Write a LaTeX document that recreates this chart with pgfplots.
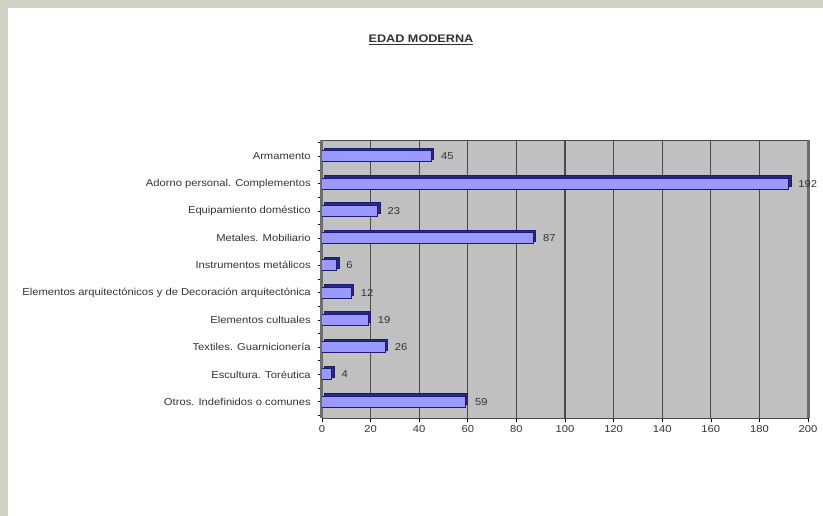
\documentclass[border=0pt]{standalone}
\usepackage{pgfplots}
\pgfplotsset{compat=1.18}
\usepackage{fontspec}
\setmainfont{Liberation Sans}
\definecolor{framec}{HTML}{CFD3C4}
\definecolor{wallc}{HTML}{C0C0C0}
\definecolor{barc}{HTML}{9999FF}
\definecolor{baredge}{HTML}{1C1C6E}
\definecolor{bardark}{HTML}{2A2A80}
\definecolor{gridc}{HTML}{4A4A4A}
\definecolor{txtc}{HTML}{333333}
\begin{document}
\begin{tikzpicture}[x=1pt,y=1pt]
\useasboundingbox (0,0) rectangle (823,516);
\fill[white] (0,0) rectangle (823,516);
\fill[framec] (0,508) rectangle (823,516);
\fill[framec] (0,0) rectangle (8,516);
\node[font=\fontsize{11}{12}\selectfont\bfseries, text=txtc, xscale=1.15] at (421,476) {\underline{EDAD MODERNA}};
\begin{axis}[
  at={(322pt,98pt)}, anchor=south west,
  scale only axis, width=486pt, height=278pt,
  xbar, bar width=11pt, bar shift=0pt,
  xmin=0, xmax=200, ymin=-0.6, ymax=9.6,
  xtick={0,20,...,200},
  ytick={0,...,9},
  yticklabels={Otros. Indefinidos o comunes, Escultura. Toréutica, Textiles. Guarnicionería, Elementos cultuales, Elementos arquitectónicos y de Decoración arquitectónica, Instrumentos metálicos, Metales. Mobiliario, Equipamiento doméstico, Adorno personal. Complementos, Armamento},
  minor ytick={-0.5,0.5,...,9.5},
  tick style={black, line width=0.6pt},
  major tick length=4pt, minor tick length=4pt,
  tick align=outside, xtick pos=bottom, ytick pos=left,
  xmajorgrids, major x grid style={gridc, line width=1.2pt},
  axis background/.style={fill=wallc},
  axis line style={gridc, line width=0.8pt},
  separate axis lines,
  y axis line style={gridc!80, line width=3pt},
  ticklabel style={font=\fontsize{10}{11}\selectfont, text=txtc, xscale=1.12},
  yticklabel style={xshift=-3pt},
  /pgf/number format/assume math mode=true,
]
\addplot[fill=bardark, draw=baredge, line width=1pt, xshift=2.5pt, yshift=2.5pt] coordinates {
(59,0) (4,1) (26,2) (19,3) (12,4) (6,5) (87,6) (23,7) (192,8) (45,9)
};
\addplot[fill=barc, draw=baredge, line width=1pt,
  nodes near coords,
  every node near coord/.append style={font=\fontsize{10}{11}\selectfont, text=txtc, anchor=west, xshift=5.5pt, xscale=1.12}] coordinates {
(59,0) (4,1) (26,2) (19,3) (12,4) (6,5) (87,6) (23,7) (192,8) (45,9)
};
\end{axis}
\end{tikzpicture}
\end{document}
